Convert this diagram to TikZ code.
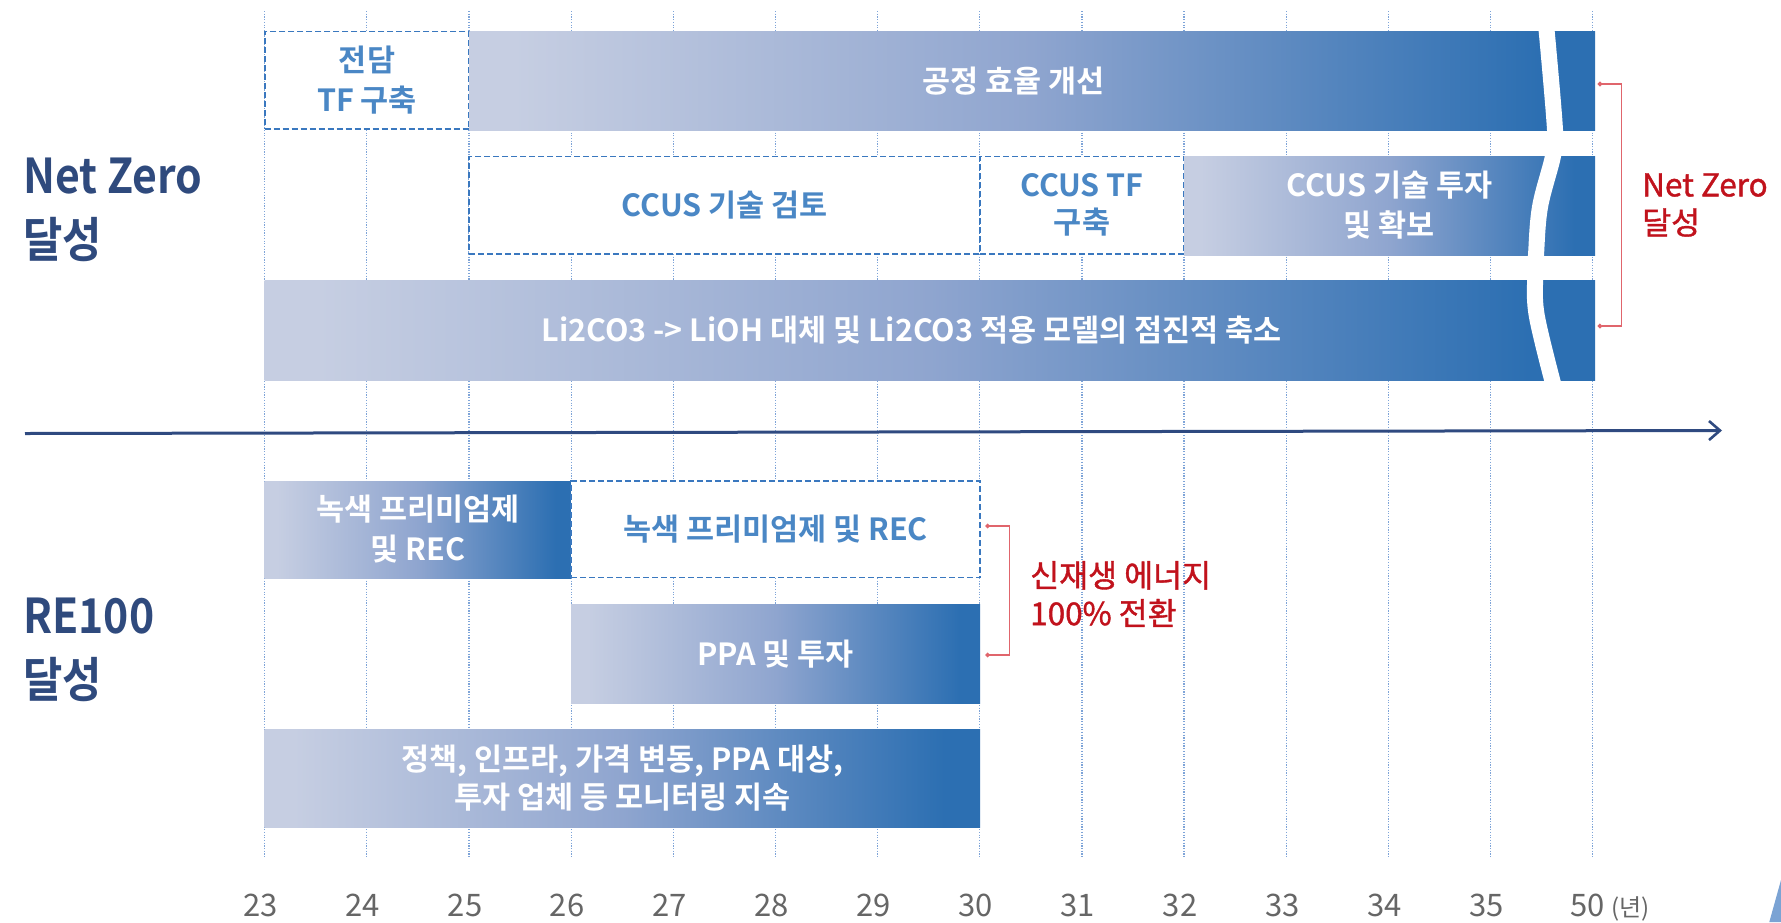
\documentclass[tikz,border=0pt]{standalone}
\usepackage{fontspec}
\setmainfont{Noto Sans CJK KR}[BoldFont={Noto Sans CJK KR Bold}]
\newfontfamily\sidefont{Noto Sans CJK KR Bold}[FakeStretch=0.89]
\newfontfamily\redfont{Noto Sans CJK KR}[FakeBold=1.2]
\usetikzlibrary{arrows.meta,fit}
\definecolor{navy}{HTML}{2F4A7D}
\definecolor{axiscol}{HTML}{2F4A80}
\definecolor{boxtext}{HTML}{4A87C5}
\definecolor{dashcol}{HTML}{3A78BF}
\definecolor{gridcol}{HTML}{7EA4D8}
\definecolor{redtext}{HTML}{C1121C}
\definecolor{redline}{HTML}{E0656C}
\definecolor{yeargray}{HTML}{666666}
\definecolor{cornerblue}{HTML}{7BA3D4}
\definecolor{gA}{HTML}{C6CEE2}
\definecolor{gB}{HTML}{8FA5CF}
\definecolor{gC}{HTML}{2C6FB2}
\pgfdeclarehorizontalshading{bargrad}{100bp}{color(0bp)=(gA); color(27bp)=(gA); color(50bp)=(gB); color(72.5bp)=(gC); color(100bp)=(gC)}
\begin{document}
\begin{tikzpicture}[x=1pt,y=-1pt,
  gridline/.style={draw=gridcol, line width=1.2pt, dash pattern=on 1.2pt off 1.5pt},
  bar/.style={rectangle, inner sep=0pt, outer sep=0pt, shade, shading=bargrad, draw=none},
  bartext/.style={text=white, font=\bfseries\fontsize{30.5}{40}\selectfont, align=center, inner sep=0pt},
  dbox/.style={rectangle, inner sep=0pt, outer sep=0pt, fill=white, draw=dashcol, line width=1.8pt, dash pattern=on 6pt off 3pt},
  boxlabel/.style={text=boxtext, font=\bfseries\fontsize{30.5}{40}\selectfont, align=center, inner sep=0pt},
  sidelabel/.style={text=navy, font=\sidefont\fontsize{48}{64}\selectfont, align=left, anchor=west, inner sep=0pt},
  redlabel/.style={text=redtext, font=\redfont\fontsize{31.5}{38}\selectfont, align=left, anchor=west, inner sep=0pt},
  bracket/.style={draw=redline, line width=1.4pt, {Circle[length=4.5pt]}-{Circle[length=4.5pt]}},
  yearlabel/.style={text=yeargray, font=\fontsize{31}{36}\selectfont, anchor=base, inner sep=0pt},
  axisline/.style={draw=axiscol, line width=3pt, -{Straight Barb[length=11pt,width=19pt,line width=2.6pt]}}
]
\useasboundingbox (0,0) rectangle (1781,922);
\fill[white] (0,0) rectangle (1781,922);

% vertical dotted year lines
\foreach \k in {0,...,13}{
  \draw[gridline] ({264.7+102.15*\k},11) -- ({264.7+102.15*\k},857);
}

% ---- Net Zero section ----
\node[sidelabel] (nzlabel) at (23,210) {Net Zero\\달성};

\node[dbox, fit={(264.7,31.5) (469.3,129)}] (tfbox) {};
\node[boxlabel] (tftext) at (tfbox.center) {전담\\TF 구축};

\node[bar, fit={(469.3,31) (1595,130)}] (effbar) {};
\node[bartext] (efftext) at (1013.5,81) {공정 효율 개선};

\node[dbox, fit={(469.3,156.5) (980,254)}] (ccusrev) {};
\node[boxlabel] (ccusrevtext) at (ccusrev.center) {CCUS 기술 검토};

\node[dbox, fit={(980,156.5) (1184,254)}] (ccustf) {};
\node[boxlabel, font=\bfseries\fontsize{30.5}{37}\selectfont] (ccustftext) at (ccustf.center) {CCUS TF\\구축};

\node[bar, fit={(1184,156) (1595,255)}] (ccusinv) {};
\node[bartext] (ccusinvtext) at (ccusinv.center) {CCUS 기술 투자\\및 확보};

\node[bar, fit={(264.7,280) (1595,380)}] (libar) {};
\node[bartext] (litext) at (911.5,330) {Li2CO3 -> LiOH 대체 및 Li2CO3 적용 모델의 점진적 축소};

% break mark
\draw[white, line width=16pt] plot[smooth, tension=0.6] coordinates {(1546,24) (1555,130) (1553,156) (1540,207) (1536,255) (1535,280) (1537,317) (1554,387)};

% bracket Net Zero
\coordinate (nzA) at (1597.7,84);
\coordinate (nzB) at (1597.7,326);
\draw[bracket] (nzA) -- (1621.7,84) -- (1621.7,326) -- (nzB);
\node[redlabel] (nzred) at (1642,205) {Net Zero\\달성};

% axis
\coordinate (axS) at (25,433.5);
\coordinate (axE) at (1722,430.5);
\draw[axisline] (axS) -- (axE);

% ---- RE100 section ----
\node[sidelabel] (relabel) at (23,650) {RE100\\달성};

\node[bar, fit={(264.7,481) (571,578)}] (greenbar) {};
\node[bartext] (greenbartext) at (greenbar.center) {녹색 프리미엄제\\및 REC};

\node[dbox, fit={(571,481) (980,577.5)}] (greenbox) {};
\node[boxlabel] (greenboxtext) at (greenbox.center) {녹색 프리미엄제 및 REC};

\node[bar, fit={(571,604) (980,703.5)}] (ppabar) {};
\node[bartext] (ppatext) at (ppabar.center) {PPA 및 투자};

\node[bar, fit={(264.7,729) (980,827.3)}] (polbar) {};
\node[bartext, font=\bfseries\fontsize{30.5}{38.5}\selectfont] (poltext) at (polbar.center) {정책, 인프라, 가격 변동, PPA 대상,\\투자 업체 등 모니터링 지속};

\coordinate (reA) at (985.3,526);
\coordinate (reB) at (985.3,655);
\draw[bracket] (reA) -- (1009.3,526) -- (1009.3,655) -- (reB);
\node[redlabel] (rered) at (1030,594) {신재생 에너지\\100\% 전환};

% year labels
\foreach \y [count=\i from 0] in {23,24,25,26,27,28,29,30,31,32,33,34,35}{
  \node[yearlabel] (yr\y) at ({264.7+102.15*\i-4},916.7) {\y};
}
\node[yearlabel, anchor=base west] (yr50) at (1570,916.7) {50 {\fontsize{24}{28}\selectfont(년)}};

% corner piece
\fill[cornerblue] (1781,880) -- (1769.3,922) -- (1781,922) -- cycle;
\end{tikzpicture}
\end{document}
